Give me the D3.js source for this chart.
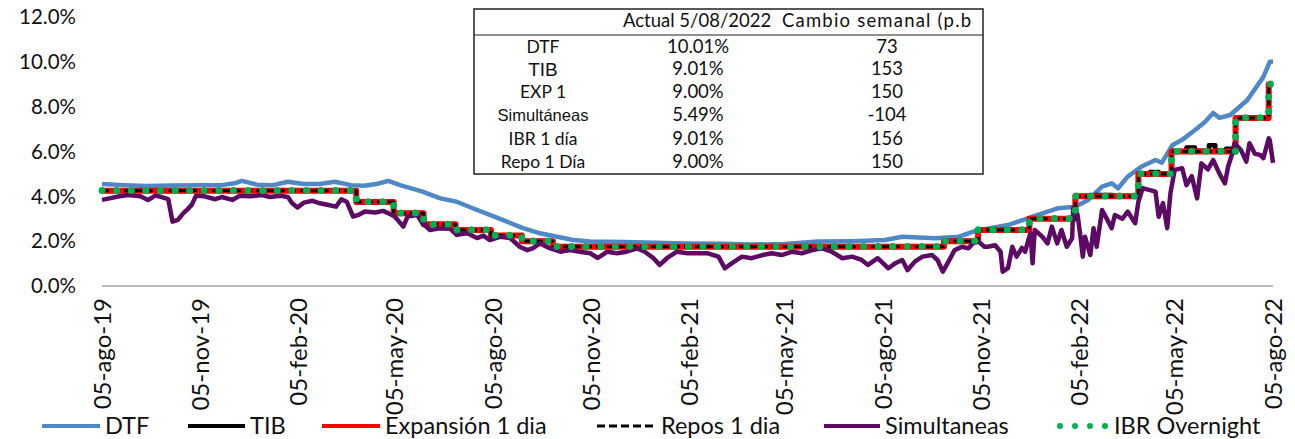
<!DOCTYPE html>
<html>
<head>
<meta charset="utf-8">
<script src="https://cdn.jsdelivr.net/npm/d3@7"></script>
<style>
  html, body { margin: 0; padding: 0; background: #fff; }
  svg { display: block; font-family: Lato, "Open Sans", sans-serif; }
</style>
</head>
<body>
<div id="chart"></div>
<script>
// ---- data ----
const tickFechas = ["2019-08-05", "2019-11-05", "2020-02-05", "2020-05-05", "2020-08-05", "2020-11-05",
    "2021-02-05", "2021-05-05", "2021-08-05", "2021-11-05", "2022-02-05", "2022-05-05", "2022-08-05"];
const tickLabels = ["05-ago-19", "05-nov-19", "05-feb-20", "05-may-20", "05-ago-20", "05-nov-20",
    "05-feb-21", "05-may-21", "05-ago-21", "05-nov-21", "05-feb-22", "05-may-22", "05-ago-22"];
const yTicks = [0, 2, 4, 6, 8, 10, 12];

const dtf = [
    ["2019-08-05", 4.55], ["2019-08-25", 4.5], ["2019-09-15", 4.46], ["2019-10-10", 4.48], ["2019-11-05", 4.5],
    ["2019-11-25", 4.5], ["2019-12-07", 4.58], ["2019-12-14", 4.69], ["2019-12-28", 4.52], ["2020-01-12", 4.5],
    ["2020-01-26", 4.65], ["2020-02-10", 4.55], ["2020-02-25", 4.55], ["2020-03-10", 4.65], ["2020-03-25", 4.5],
    ["2020-04-06", 4.47], ["2020-04-18", 4.55], ["2020-04-29", 4.69], ["2020-05-10", 4.5], ["2020-05-31", 4.21],
    ["2020-06-16", 3.92], ["2020-07-02", 3.76], ["2020-07-17", 3.47], ["2020-08-02", 3.17], ["2020-08-18", 2.87],
    ["2020-09-02", 2.58], ["2020-09-18", 2.35], ["2020-10-04", 2.2], ["2020-10-19", 2.05], ["2020-11-04", 1.98],
    ["2020-12-05", 1.96], ["2021-01-05", 1.93], ["2021-02-01", 1.9], ["2021-03-05", 1.88], ["2021-04-04", 1.85],
    ["2021-05-05", 1.87], ["2021-06-05", 1.98], ["2021-07-07", 2.0], ["2021-08-07", 2.05], ["2021-08-23", 2.2],
    ["2021-09-23", 2.13], ["2021-10-15", 2.2], ["2021-10-30", 2.45], ["2021-11-30", 2.72], ["2021-12-23", 3.1],
    ["2022-01-16", 3.47], ["2022-02-01", 3.54], ["2022-02-13", 3.84], ["2022-02-26", 4.43], ["2022-03-07", 4.58],
    ["2022-03-13", 4.36], ["2022-03-22", 4.88], ["2022-04-04", 5.33], ["2022-04-17", 5.62], ["2022-04-23", 5.5],
    ["2022-05-03", 6.29], ["2022-05-12", 6.52], ["2022-05-24", 6.96], ["2022-06-02", 7.3], ["2022-06-10", 7.72],
    ["2022-06-16", 7.5], ["2022-06-26", 7.63], ["2022-07-12", 8.3], ["2022-07-27", 9.33], ["2022-08-02", 10.0],
    ["2022-08-05", 10.01]
];

const tib = [
    ["2019-08-05", 4.26], ["2020-03-30", 3.76], ["2020-05-04", 3.26], ["2020-06-01", 2.76], ["2020-07-01", 2.51],
    ["2020-08-03", 2.26], ["2020-09-01", 2.01], ["2020-09-30", 1.76], ["2021-10-01", 2.01], ["2021-11-02", 2.51],
    ["2021-12-20", 3.01], ["2022-02-01", 4.02], ["2022-02-20", 4.06], ["2022-03-08", 4.02], ["2022-04-01", 5.02],
    ["2022-04-12", 5.08], ["2022-04-20", 5.03], ["2022-05-02", 6.02], ["2022-05-16", 6.18], ["2022-05-24", 6.03],
    ["2022-06-06", 6.28], ["2022-06-12", 6.05], ["2022-06-22", 6.12], ["2022-07-01", 7.52], ["2022-08-01", 9.01],
    ["2022-08-05", 9.01]
];

const expansion = [
    ["2019-08-05", 4.25], ["2020-03-30", 3.75], ["2020-05-04", 3.25], ["2020-06-01", 2.75], ["2020-07-01", 2.5],
    ["2020-08-03", 2.25], ["2020-09-01", 2.0], ["2020-09-30", 1.75], ["2021-10-01", 2.0], ["2021-11-02", 2.5],
    ["2021-12-20", 3.0], ["2022-02-01", 4.0], ["2022-04-01", 5.0], ["2022-05-02", 6.0], ["2022-07-01", 7.5],
    ["2022-08-01", 9.0], ["2022-08-05", 9.0]
];

const repos = [
    ["2019-08-05", 4.25], ["2020-03-30", 3.75], ["2020-05-04", 3.25], ["2020-06-01", 2.75], ["2020-07-01", 2.5],
    ["2020-08-03", 2.25], ["2020-09-01", 2.0], ["2020-09-30", 1.75], ["2021-10-01", 2.0], ["2021-11-02", 2.5],
    ["2021-12-20", 3.0], ["2022-02-01", 4.0], ["2022-04-01", 5.0], ["2022-05-02", 6.0], ["2022-07-01", 7.5],
    ["2022-08-01", 9.0], ["2022-08-05", 9.0]
];

const simultaneas = [
    ["2019-08-05", 3.84], ["2019-08-12", 3.91], ["2019-08-20", 3.99], ["2019-08-29", 4.06], ["2019-09-10", 4.0],
    ["2019-09-17", 3.84], ["2019-09-24", 4.03], ["2019-09-30", 3.97], ["2019-10-06", 3.87], ["2019-10-10", 2.87],
    ["2019-10-15", 2.95], ["2019-10-20", 3.24], ["2019-10-24", 3.42], ["2019-10-28", 3.62], ["2019-11-01", 4.03],
    ["2019-11-09", 4.0], ["2019-11-19", 3.87], ["2019-11-25", 3.97], ["2019-12-05", 3.84], ["2019-12-12", 4.03],
    ["2019-12-22", 4.0], ["2020-01-02", 4.06], ["2020-01-09", 3.97], ["2020-01-19", 4.03], ["2020-01-26", 3.97],
    ["2020-01-30", 3.69], ["2020-02-04", 3.5], ["2020-02-10", 3.72], ["2020-02-18", 3.8], ["2020-02-25", 3.69],
    ["2020-03-05", 3.6], ["2020-03-11", 3.54], ["2020-03-16", 3.87], ["2020-03-21", 3.76], ["2020-03-27", 3.1],
    ["2020-04-01", 3.17], ["2020-04-07", 3.32], ["2020-04-17", 3.28], ["2020-04-24", 3.35], ["2020-05-01", 3.2],
    ["2020-05-05", 3.1], ["2020-05-13", 2.65], ["2020-05-17", 3.1], ["2020-05-26", 3.17], ["2020-05-31", 2.8],
    ["2020-06-07", 2.5], ["2020-06-16", 2.57], ["2020-06-26", 2.55], ["2020-07-02", 2.28], ["2020-07-12", 2.35],
    ["2020-07-21", 2.14], ["2020-07-27", 2.25], ["2020-08-02", 2.05], ["2020-08-12", 2.2], ["2020-08-21", 2.14],
    ["2020-08-30", 1.75], ["2020-09-06", 1.6], ["2020-09-11", 1.68], ["2020-09-18", 1.9], ["2020-09-27", 1.69],
    ["2020-10-07", 1.53], ["2020-10-16", 1.6], ["2020-10-25", 1.53], ["2020-11-04", 1.46], ["2020-11-11", 1.25],
    ["2020-11-20", 1.53], ["2020-11-29", 1.46], ["2020-12-08", 1.53], ["2020-12-18", 1.68], ["2020-12-25", 1.53],
    ["2021-01-02", 1.25], ["2021-01-08", 0.94], ["2021-01-15", 1.25], ["2021-01-24", 1.53], ["2021-02-03", 1.46],
    ["2021-02-12", 1.46], ["2021-02-22", 1.46], ["2021-03-04", 1.31], ["2021-03-10", 0.79], ["2021-03-17", 1.03],
    ["2021-03-26", 1.31], ["2021-04-04", 1.24], ["2021-04-14", 1.38], ["2021-04-23", 1.46], ["2021-05-02", 1.38],
    ["2021-05-12", 1.53], ["2021-05-21", 1.46], ["2021-05-31", 1.6], ["2021-06-09", 1.68], ["2021-06-18", 1.53],
    ["2021-06-28", 1.24], ["2021-07-07", 1.31], ["2021-07-16", 1.16], ["2021-07-22", 0.94], ["2021-07-31", 1.24],
    ["2021-08-10", 0.79], ["2021-08-16", 1.0], ["2021-08-23", 1.16], ["2021-08-28", 0.71], ["2021-09-04", 1.1],
    ["2021-09-11", 1.31], ["2021-09-20", 1.38], ["2021-09-25", 1.16], ["2021-09-30", 0.64], ["2021-10-07", 1.24],
    ["2021-10-11", 1.6], ["2021-10-18", 1.75], ["2021-10-24", 1.68], ["2021-10-28", 1.9], ["2021-11-02", 1.99],
    ["2021-11-08", 1.75], ["2021-11-11", 1.75], ["2021-11-18", 1.82], ["2021-11-23", 1.53], ["2021-11-25", 0.64],
    ["2021-11-30", 0.8], ["2021-12-04", 1.75], ["2021-12-08", 1.31], ["2021-12-13", 1.7], ["2021-12-16", 1.53],
    ["2021-12-19", 2.05], ["2021-12-21", 2.35], ["2021-12-23", 1.01], ["2021-12-25", 2.5], ["2022-01-01", 2.2],
    ["2022-01-06", 1.9], ["2022-01-10", 2.65], ["2022-01-15", 1.9], ["2022-01-19", 2.5], ["2022-01-24", 1.75],
    ["2022-01-29", 2.13], ["2022-01-30", 3.47], ["2022-02-03", 3.2], ["2022-02-06", 2.13], ["2022-02-08", 1.31],
    ["2022-02-10", 2.2], ["2022-02-15", 1.38], ["2022-02-18", 2.58], ["2022-02-21", 1.75], ["2022-02-26", 3.39],
    ["2022-03-03", 2.95], ["2022-03-07", 2.58], ["2022-03-10", 3.17], ["2022-03-17", 3.0], ["2022-03-22", 3.32],
    ["2022-03-29", 2.8], ["2022-04-01", 3.76], ["2022-04-05", 4.36], ["2022-04-10", 4.3], ["2022-04-17", 4.21],
    ["2022-04-20", 3.09], ["2022-04-24", 3.7], ["2022-04-28", 2.58], ["2022-05-01", 4.14], ["2022-05-05", 5.18],
    ["2022-05-12", 5.25], ["2022-05-16", 4.5], ["2022-05-21", 4.9], ["2022-05-26", 3.91], ["2022-05-30", 5.47],
    ["2022-06-05", 5.2], ["2022-06-10", 5.62], ["2022-06-16", 5.0], ["2022-06-21", 4.58], ["2022-06-24", 5.33],
    ["2022-06-28", 5.92], ["2022-06-30", 6.37], ["2022-07-06", 6.07], ["2022-07-11", 5.55], ["2022-07-14", 6.37],
    ["2022-07-19", 5.9], ["2022-07-24", 5.85], ["2022-07-27", 5.7], ["2022-08-01", 6.59], ["2022-08-02", 6.5],
    ["2022-08-05", 5.49]
];

const ibr = [
    ["2019-08-05", 4.26], ["2020-03-30", 3.76], ["2020-05-04", 3.26], ["2020-06-01", 2.76], ["2020-07-01", 2.51],
    ["2020-08-03", 2.26], ["2020-09-01", 2.01], ["2020-09-30", 1.76], ["2021-10-01", 2.01], ["2021-11-02", 2.51],
    ["2021-12-20", 3.01], ["2022-02-01", 4.01], ["2022-04-01", 5.01], ["2022-05-02", 6.01], ["2022-07-01", 7.51],
    ["2022-08-01", 9.01], ["2022-08-05", 9.01]
];

// summary table
const tablaHeader = ["", "Actual 5/08/2022", "Cambio semanal (p.b"];
const tablaNombres = ["DTF", "TIB", "EXP 1", "Simultáneas", "IBR 1 día", "Repo 1 Día"];
const tablaActual = ["10.01%", "9.01%", "9.00%", "5.49%", "9.01%", "9.00%"];
const tablaCambio = ["73", "153", "150", "-104", "156", "150"];

// ---- drawing ----
const W = 1295, H = 439;
const parse = d3.timeParse("%Y-%m-%d");

const svg = d3.select("#chart").append("svg")
    .attr("width", W)
    .attr("height", H);

const x = d3.scaleTime()
    .domain([parse("2019-08-05"), parse("2022-08-05")])
    .range([102, 1273]);

const y = d3.scaleLinear()
    .domain([0, 12])
    .range([286, 17]);

// y labels
svg.append("g")
    .selectAll("text")
    .data(yTicks)
    .enter()
    .append("text")
    .attr("x", 76)
    .attr("y", d => y(d))
    .attr("dy", "0.35em")
    .attr("text-anchor", "end")
    .attr("fill", "#111")
    .style("font-size", "20.5px")
    .text(d => d3.format(".1f")(d) + "%");

// x axis line
svg.append("line")
    .attr("x1", x.range()[0])
    .attr("x2", x.range()[1])
    .attr("y1", y(0))
    .attr("y2", y(0))
    .attr("stroke", "#a6a6a6")
    .attr("stroke-width", 1.5);

// x labels (rotated)
svg.append("g")
    .selectAll("text")
    .data(tickFechas)
    .enter()
    .append("text")
    .attr("transform", d => `translate(${x(parse(d))},298) rotate(-90)`)
    .attr("dy", "0.36em")
    .attr("text-anchor", "end")
    .attr("fill", "#111")
    .style("font-size", "24px")
    .text((d, i) => tickLabels[i]);

function toPts(arr) {
    return arr.map(d => ({ date: parse(d[0]), v: d[1] }));
}

const lineLin = d3.line().x(d => x(d.date)).y(d => y(d.v));
const lineStep = d3.line().x(d => x(d.date)).y(d => y(d.v)).curve(d3.curveStepAfter);

const series = [
    { data: dtf, gen: lineLin, stroke: "#4f88c6", width: 4.5 },
    { data: tib, gen: lineStep, stroke: "#000", width: 4.5 },
    { data: expansion, gen: lineStep, stroke: "#ff0000", width: 6 },
    { data: repos, gen: lineStep, stroke: "#000", width: 3, dash: "7 4" },
    { data: simultaneas, gen: lineLin, stroke: "#5c0a63", width: 4.5 },
    { data: ibr, gen: lineStep, stroke: "#00b050", width: 7, dash: "0 14.6", cap: "round" }
];

series.forEach(s => {
    svg.append("path")
        .datum(toPts(s.data))
        .attr("fill", "none")
        .attr("stroke", s.stroke)
        .attr("stroke-width", s.width)
        .attr("stroke-linejoin", "round")
        .attr("stroke-linecap", s.cap || "butt")
        .attr("stroke-dasharray", s.dash || null)
        .attr("d", s.gen);
});

// table box
const tb = { x0: 474, x1: 983, y0: 9, y1: 174 };
const tabla = svg.append("g");
tabla.append("rect")
    .attr("x", tb.x0)
    .attr("y", tb.y0)
    .attr("width", tb.x1 - tb.x0)
    .attr("height", tb.y1 - tb.y0)
    .attr("fill", "#fff")
    .attr("stroke", "#222")
    .attr("stroke-width", 1.5);
tabla.append("line")
    .attr("x1", tb.x0).attr("x2", tb.x1)
    .attr("y1", 35).attr("y2", 35)
    .attr("stroke", "#222")
    .attr("stroke-width", 1.2);

const colX = [543, 698, 887];
tabla.append("text")
    .attr("x", 623).attr("y", 21).attr("dy", "0.35em")
    .style("font-size", "18.5px").attr("fill", "#111")
    .text(tablaHeader[1]);
tabla.append("text")
    .attr("x", 782).attr("y", 21).attr("dy", "0.35em")
    .style("font-size", "18.5px").attr("fill", "#111")
    .style("letter-spacing", "1.2px")
    .text(tablaHeader[2]);

const rowY = [47, 69, 92, 115, 139, 162];
tablaNombres.forEach((n, i) => {
    const arial = (n === "TIB" || n === "Simultáneas");
    tabla.append("text")
        .attr("x", colX[0]).attr("y", rowY[i]).attr("dy", "0.35em")
        .attr("text-anchor", "middle")
        .style("font-family", arial ? "'Liberation Sans', Arial, sans-serif" : null)
        .style("font-size", n === "TIB" ? "19px" : (arial ? "16.5px" : "17.5px"))
        .attr("fill", "#111")
        .text(n);
    tabla.append("text")
        .attr("x", colX[1]).attr("y", rowY[i]).attr("dy", "0.35em")
        .attr("text-anchor", "middle")
        .style("font-size", "18.5px").attr("fill", "#111")
        .text(tablaActual[i]);
    tabla.append("text")
        .attr("x", colX[2]).attr("y", rowY[i]).attr("dy", "0.35em")
        .attr("text-anchor", "middle")
        .style("font-size", "18.5px").attr("fill", "#111")
        .text(tablaCambio[i]);
});

// legend
const legend = [
    { label: "DTF", x0: 42, x1: 100, stroke: "#4f88c6", width: 4 },
    { label: "TIB", x0: 188, x1: 245, stroke: "#000", width: 4 },
    { label: "Expansión 1 dia", x0: 322, x1: 380, stroke: "#ff0000", width: 4 },
    { label: "Repos 1 dia", x0: 597, x1: 656, stroke: "#000", width: 3, dash: "8 4" },
    { label: "Simultaneas", x0: 824, x1: 880, stroke: "#5c0a63", width: 4 },
    { label: "IBR Overnight", x0: 1060, x1: 1106, stroke: "#00b050", width: 6, dash: "0 15", cap: "round" }
];
const lg = svg.append("g");
legend.forEach(d => {
    lg.append("line")
        .attr("x1", d.x0).attr("x2", d.x1)
        .attr("y1", 426).attr("y2", 426)
        .attr("stroke", d.stroke)
        .attr("stroke-width", d.width)
        .attr("stroke-linecap", d.cap || "butt")
        .attr("stroke-dasharray", d.dash || null);
    lg.append("text")
        .attr("x", d.label === "IBR Overnight" ? d.x1 + 8 : d.x1 + 5).attr("y", 426).attr("dy", "0.35em")
        .style("font-size", "23.5px").attr("fill", "#111")
        .text(d.label);
});
</script>
</body>
</html>
